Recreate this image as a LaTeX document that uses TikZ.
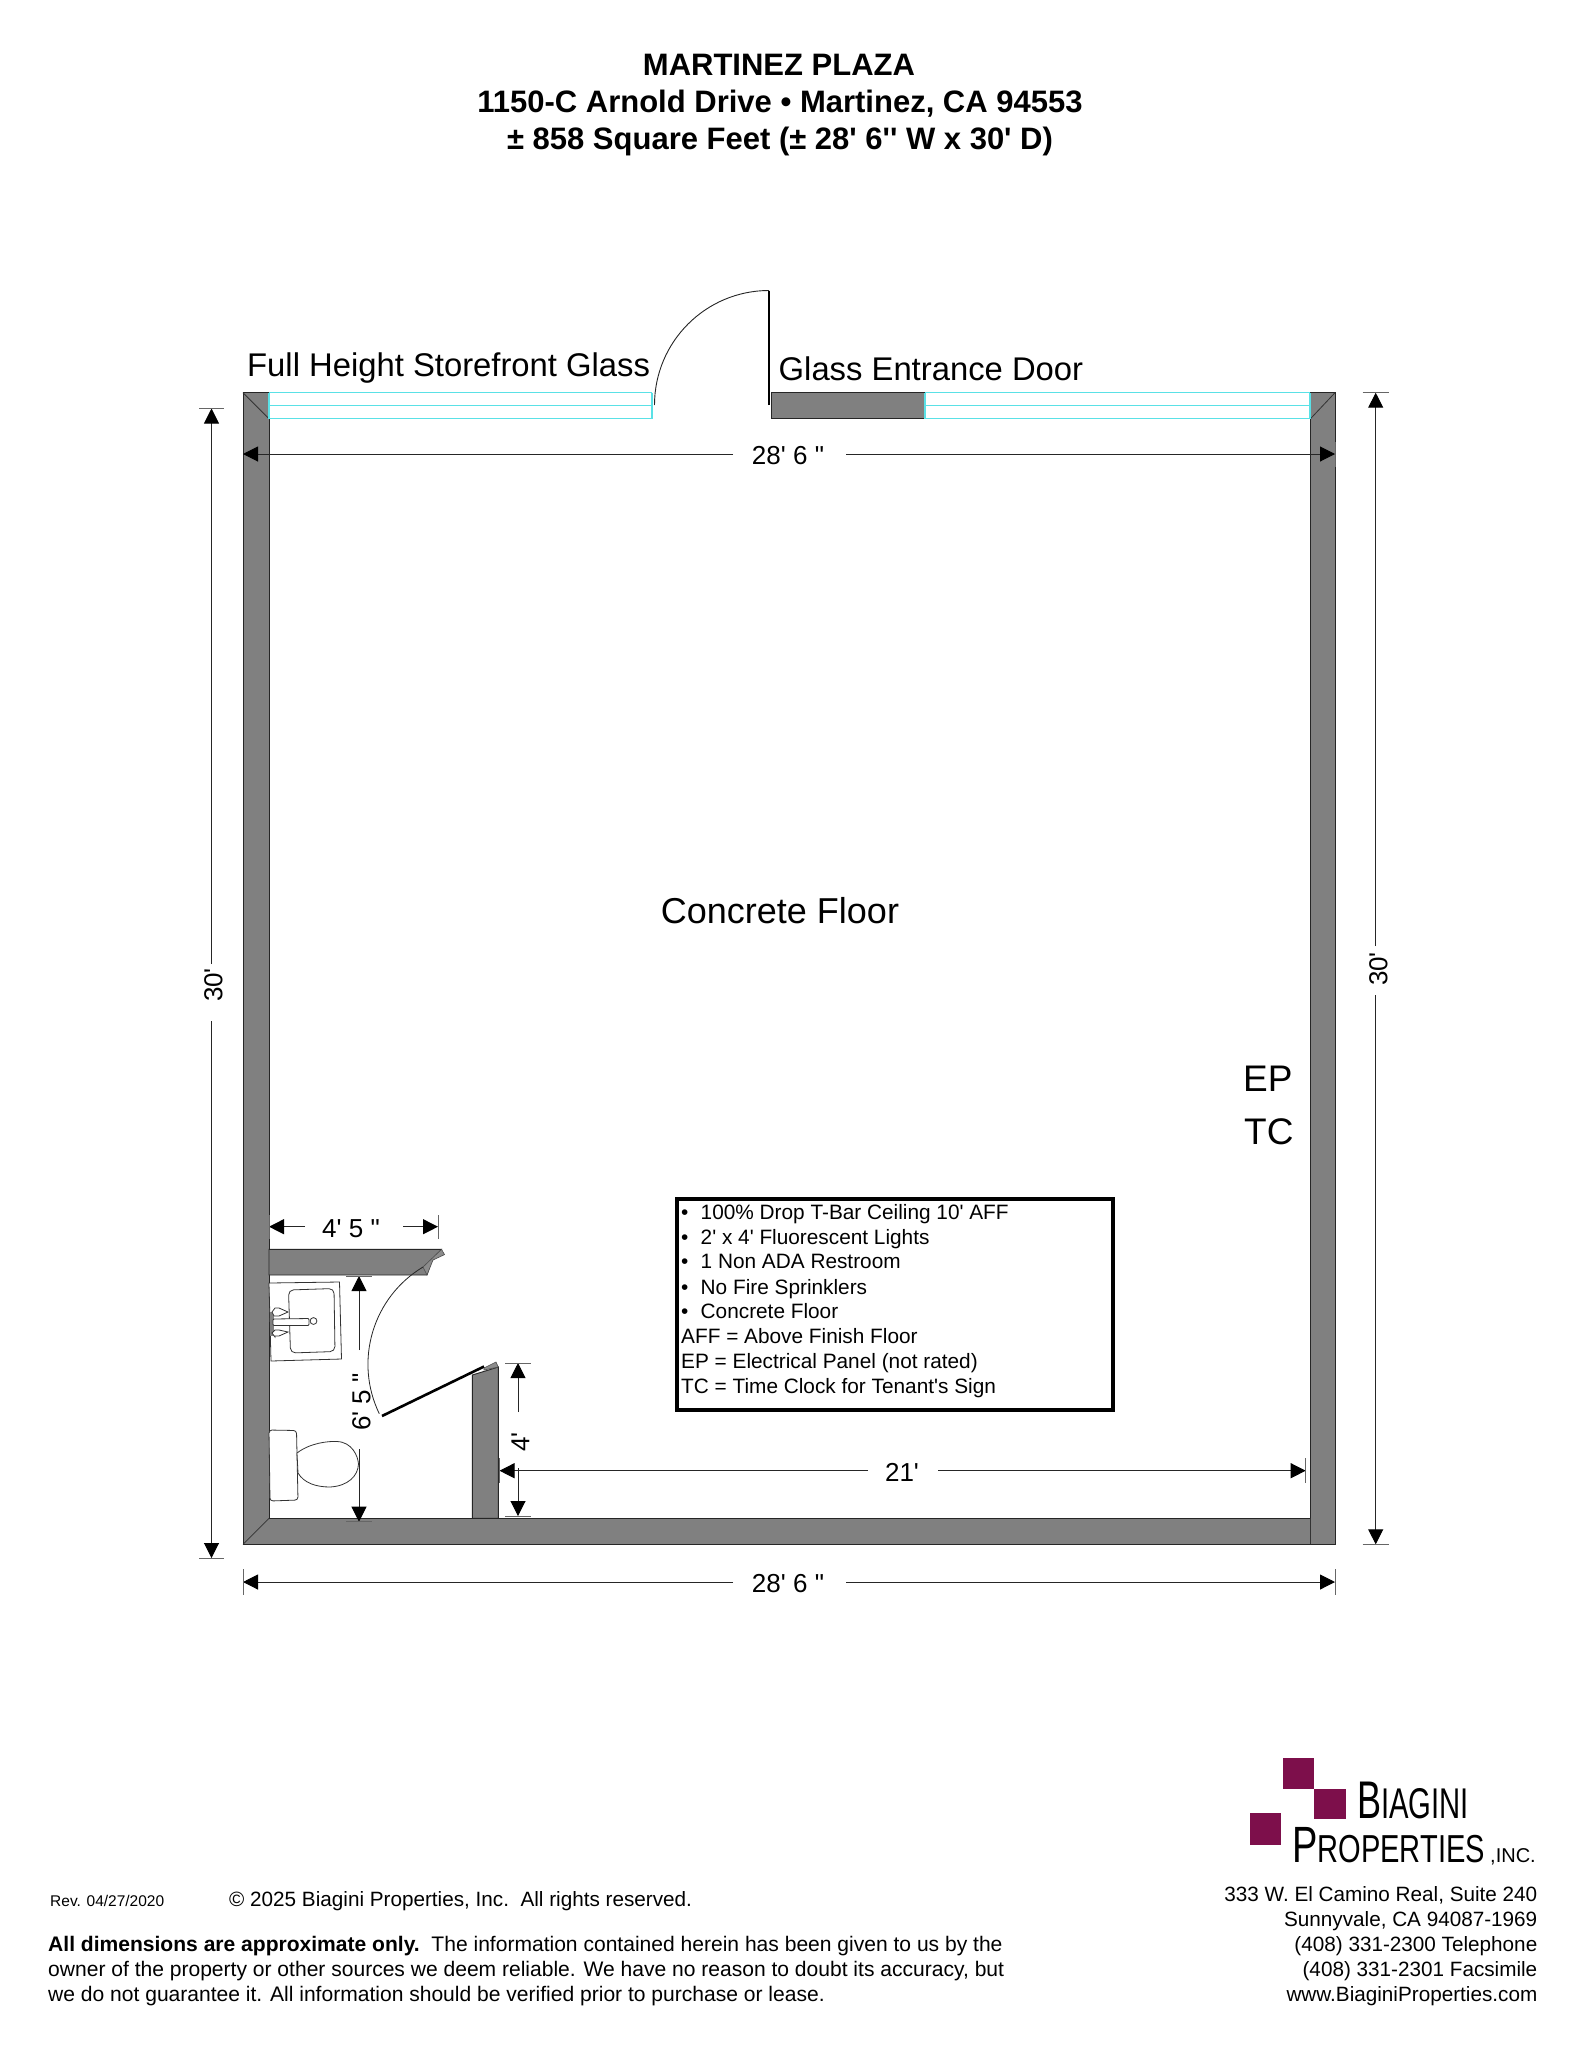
\documentclass[tikz,border=0pt]{standalone}
\usepackage{fontspec}
\setmainfont{Liberation Sans}[Ligatures=TeXOff]
\usetikzlibrary{arrows.meta}
\definecolor{wall}{RGB}{128,128,128}
\definecolor{glass}{RGB}{90,225,230}
\definecolor{logo}{RGB}{125,15,75}
\tikzset{
 x=1pt,y=-1pt,
 wallfill/.style={fill=wall,draw=black!70!wall,line width=0.9pt},
 glassline/.style={draw=glass,line width=1.2pt},
 dimline/.style={draw=black!85,line width=1pt},
 dimtick/.style={draw=black!60,line width=1pt},
 tip/.style={-{Triangle[length=15pt,width=15pt,fill=black,color=black]}},
 fix/.style={line width=0.8pt,draw=black!80,fill=white},
 lab/.style={inner sep=0pt,text height={#1*0.72pt},text depth=0pt,font=\fontsize{#1}{#1}\selectfont},
 boldlab/.style={inner sep=0pt,text height={#1*0.72pt},text depth=0pt,font=\bfseries\fontsize{#1}{#1}\selectfont},
}
\begin{document}
\begin{tikzpicture}
\useasboundingbox (0,0) rectangle (1583,2048);
\fill[white] (0,0) rectangle (1583,2048);
% title
\node[boldlab=31] (t1) at (779,64) {MARTINEZ PLAZA};
\node[boldlab=31] (t2) at (780,101) {1150-C Arnold Drive • Martinez, CA 94553};
\node[boldlab=31] (t3) at (780,138) {± 858 Square Feet (± 28' 6'' W x 30' D)};
% walls
\fill[wallfill] (243,392.7) -- (269,392.7) -- (269,1518.3) -- (1310.5,1518.3) -- (1310.5,392.7) -- (1335,392.7) -- (1335,1544.3) -- (243,1544.3) -- cycle;
\fill[wallfill] (771,392.7) rectangle (925,418.7);
\draw[black!80,line width=0.8pt] (243,392.7) -- (269,418.7) (243,1544.3) -- (269,1518.3) (1335,392.7) -- (1310.5,418.7) (1310.5,1518.3) -- (1310.5,1544.3);
% glass
\draw[glassline] (269,392.7) -- (652,392.7) (269,405.7) -- (652,405.7) (269,418.7) -- (652,418.7) (652,392.7) -- (652,418.7) (269,392.7) -- (269,418.7);
\draw[glassline] (925,392.7) -- (1310,392.7) (925,405.7) -- (1310,405.7) (925,418.7) -- (1310,418.7) (1310,392.7) -- (1310,418.7) (925,392.7) -- (925,418.7);
% entrance door
\coordinate (hinge) at (769,405);
\coordinate (leaftop) at (769,290.5);
\draw[black,line width=2.4pt] (hinge) -- (leaftop);
\draw[black!85,line width=0.9pt] (leaftop) arc[start angle=-90,end angle=-180,radius=114.5];
% restroom walls
\fill[wallfill] (269,1249.3) -- (441.5,1249.3) -- (431,1262) -- (427,1275) -- (269,1275) -- cycle;
\fill[black!45,draw=black!70,line width=0.6pt] (441.5,1249.3) -- (444.5,1254.6) -- (433,1260) -- (427,1275) -- (423,1267) -- cycle;
\fill[wallfill] (472.3,1375) -- (498.3,1367) -- (498.3,1518.3) -- (472.3,1518.3) -- cycle;
\fill[black!45,draw=black!70,line width=0.6pt] (484,1368) -- (496,1362) -- (498.3,1367) -- (484,1370) -- cycle;
% restroom door
\coordinate (rhinge) at (484,1366.5);
\coordinate (rfree) at (382,1416);
\draw[black,line width=2.6pt] (rhinge) -- (rfree);
\draw[black!85,line width=0.8pt] (423,1267) arc[start angle=-121,end angle=-205.8,radius=113.5];
% sink
\draw[fix] (269,1283) -- (339.5,1282) -- (341.5,1359) -- (271,1361) -- cycle;
\draw[fix,rounded corners=5pt] (288.5,1290) -- (334,1288.5) -- (335,1351.5) -- (290.5,1353) -- cycle;
\fill[black!50] (270,1312) rectangle (274,1336);
\draw[fix,rounded corners=1pt] (273,1319) -- (309,1318.5) -- (309,1325.5) -- (273,1325.5) -- cycle;
\draw[fix] (313.5,1321) circle[radius=3.4];
\draw[fix] (272,1312) -- (275,1308) -- (279,1308) -- (288,1312) -- (279,1316) -- (274,1316) -- cycle;
\draw[fix] (272,1333) -- (275,1330) -- (279,1330) -- (288,1332) -- (279,1336) -- (275,1336) -- (275,1337) -- cycle;
% toilet
\draw[fix,rounded corners=3pt] (269,1430) -- (296.5,1430.5) -- (298,1500) -- (270,1501) -- cycle;
\draw[fix] (297,1453) .. controls (310,1443) and (328,1441) .. (337,1441.5) .. controls (352,1442) and (358,1456) .. (358.5,1464) .. controls (358,1476) and (348,1486) .. (330,1487) .. controls (316,1487) and (304,1483) .. (298,1473) -- cycle;
% 28'6" top
\coordinate (a1) at (243,454); \coordinate (a2) at (733,454);
\coordinate (a3) at (846,454); \coordinate (a4) at (1335,454);
\draw[dimline,tip] (a2) -- (a1);
\draw[dimline,tip] (a3) -- (a4);
\draw[dimtick] (1335,442) -- (1335,467);
\node[lab=26] (d1) at (788,455) {28' 6 "};
% 30' left
\coordinate (b1) at (211.5,408.5); \coordinate (b2) at (211.5,964);
\coordinate (b3) at (211.5,1021); \coordinate (b4) at (211.5,1558);
\draw[dimline,tip] (b2) -- (b1);
\draw[dimline,tip] (b3) -- (b4);
\draw[dimtick] (199,408.5) -- (224,408.5) (199,1558) -- (224,1558);
\node[lab=26,rotate=90] (d2) at (213,985) {30'};
% 30' right
\coordinate (c1) at (1375.7,392.7); \coordinate (c2) at (1375.7,946);
\coordinate (c3) at (1375.7,995); \coordinate (c4) at (1375.7,1544.3);
\draw[dimline,tip] (c2) -- (c1);
\draw[dimline,tip] (c3) -- (c4);
\draw[dimtick] (1362.7,392.7) -- (1388.7,392.7) (1362.7,1544.3) -- (1388.7,1544.3);
\node[lab=26,rotate=90] (d3) at (1378,969) {30'};
% 28'6" bottom
\coordinate (e1) at (243,1582); \coordinate (e2) at (733,1582);
\coordinate (e3) at (846,1582); \coordinate (e4) at (1335,1582);
\draw[dimline,tip] (e2) -- (e1);
\draw[dimline,tip] (e3) -- (e4);
\draw[dimtick] (243,1569) -- (243,1595) (1335,1569) -- (1335,1595);
\node[lab=26] (d4) at (788,1583) {28' 6 "};
% 4'5"
\coordinate (f1) at (269,1226.7); \coordinate (f2) at (305,1226.7);
\coordinate (f3) at (403,1226.7); \coordinate (f4) at (438,1226.7);
\draw[dimline,tip] (f2) -- (f1);
\draw[dimline,tip] (f3) -- (f4);
\draw[dimtick] (269,1215) -- (269,1239) (438,1215) -- (438,1239);
\node[lab=26] (d5) at (351,1228) {4' 5 "};
% 6'5"
\coordinate (g1) at (359,1276); \coordinate (g2) at (359,1350);
\coordinate (g3) at (359,1449); \coordinate (g4) at (359,1521.7);
\draw[dimline,tip] (g2) -- (g1);
\draw[dimline,tip] (g3) -- (g4);
\draw[dimtick] (346,1276) -- (372,1276) (346,1521.7) -- (372,1521.7);
\node[lab=26,rotate=90] (d6) at (361,1402) {6' 5 "};
% 4'
\coordinate (h1) at (518,1363); \coordinate (h2) at (518,1412);
\coordinate (h3) at (518,1468); \coordinate (h4) at (518,1516);
\draw[dimline,tip] (h2) -- (h1);
\draw[dimline,tip] (h3) -- (h4);
\draw[dimtick] (505,1363) -- (531,1363) (505,1516) -- (531,1516);
\node[lab=26,rotate=90] (d7) at (520,1442) {4'};
% 21'
\coordinate (i1) at (499.5,1470.7); \coordinate (i2) at (868,1470.7);
\coordinate (i3) at (938,1470.7); \coordinate (i4) at (1305.7,1470.7);
\draw[dimline,tip] (i2) -- (i1);
\draw[dimline,tip] (i3) -- (i4);
\draw[dimtick] (499.5,1458) -- (499.5,1483) (1305.7,1458) -- (1305.7,1483);
\node[lab=26] (d8) at (902,1472) {21'};
% labels
\node[lab=32.8,anchor=west] (l1) at (247,365) {Full Height Storefront Glass};
\node[lab=32.8,anchor=west] (l2) at (778.5,369) {Glass Entrance Door};
\node[lab=36] (l3) at (780,911) {Concrete Floor};
\node[lab=37,anchor=west] (l4) at (1243,1078.5) {EP};
\node[lab=37,anchor=west] (l5) at (1244,1131.5) {TC};
% info box
\node[draw=black,line width=3.4pt,outer sep=0pt,minimum width=436pt,minimum height=211pt,inner sep=0pt,anchor=north west] (box) at (677,1199) {};
\foreach \n/\yy/\tx in {1/1212/100\% Drop T-Bar Ceiling 10' AFF,2/1237/2' x 4' Fluorescent Lights,3/1261/1 Non ADA Restroom,4/1287/No Fire Sprinklers,5/1311/Concrete Floor}{
  \node[lab=20.8,anchor=west] (bul\n) at (681,\yy) {•};
  \node[lab=20.8,anchor=west] (itm\n) at (700.5,\yy) {\tx};
}
\node[lab=20.8,anchor=west] (n1) at (681,1336) {AFF = Above Finish Floor};
\node[lab=20.8,anchor=west] (n2) at (681,1361) {EP = Electrical Panel (not rated)};
\node[lab=20.8,anchor=west] (n3) at (681,1386) {TC = Time Clock for Tenant's Sign};
% footer
\node[lab=15.5,anchor=west] (rev) at (50,1901) {Rev. 04/27/2020};
\node[lab=20.7,anchor=west] (copy) at (229,1899) {© 2025 Biagini Properties, Inc.\ \ All rights reserved.};
\node[lab=21.05,anchor=west] (f1t) at (48,1944) {\textbf{All dimensions are approximate only.}\ \ The information contained herein has been given to us by the};
\node[lab=21.05,anchor=west] (f2t) at (48,1969) {owner of the property or other sources we deem reliable. We have no reason to doubt its accuracy, but};
\node[lab=21.05,anchor=west] (f3t) at (48,1993.5) {we do not guarantee it. All information should be verified prior to purchase or lease.};
\foreach \n/\yy/\tx in {1/1894/{333 W. El Camino Real, Suite 240},2/1919/{Sunnyvale, CA 94087-1969},3/1944/(408) 331-2300 Telephone,4/1969/(408) 331-2301 Facsimile,5/1994/www.BiaginiProperties.com}{
  \node[lab=20.7,anchor=east] (addr\n) at (1537.5,\yy) {\tx};
}
% logo
\fill[logo] (1283,1757.5) rectangle (1314,1788.5);
\fill[logo] (1314,1788.5) rectangle (1346,1819);
\fill[logo] (1250,1813) rectangle (1281,1844.5);
\node[lab=53,anchor=base west,xscale=0.68] (lg1) at (1357,1818) {B\fontsize{43}{43}\selectfont IAGINI};
\node[lab=51,anchor=base west,xscale=0.745] (lg2) at (1292,1862) {P\fontsize{39}{39}\selectfont ROPERTIES};
\node[lab=20,anchor=base west] (lg3) at (1490,1862) {,INC.};
\end{tikzpicture}
\end{document}
